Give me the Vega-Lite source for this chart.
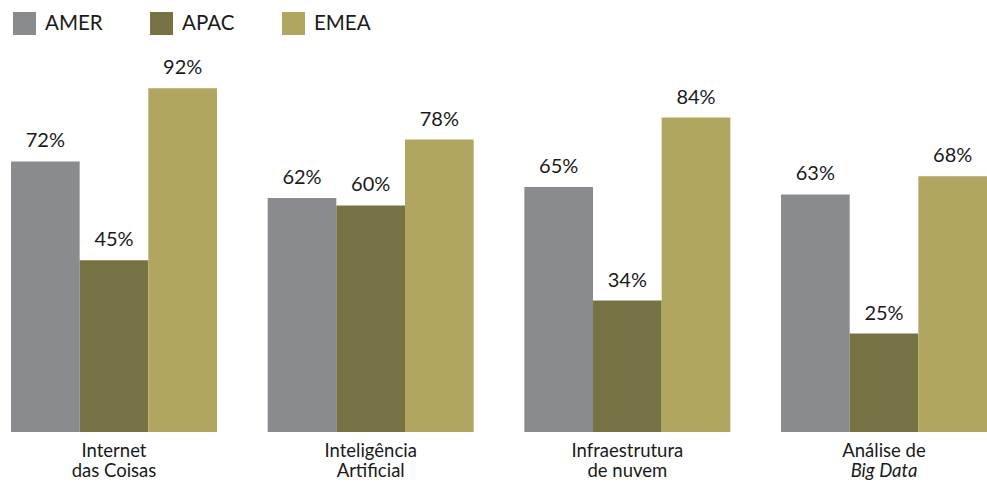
{
  "$schema": "https://vega.github.io/schema/vega-lite/v6.json",
  "width": 976,
  "height": 373,
  "autosize": "none",
  "padding": {"left": 11, "top": 59, "right": 0, "bottom": 50},
  "config": {
    "view": {"stroke": null},
    "font": "Lato",
    "axis": {"grid": false}
  },
  "data": {
    "values": [
      {"tech": "Internet das Coisas", "region": "AMER", "share": 0.72},
      {"tech": "Internet das Coisas", "region": "APAC", "share": 0.45},
      {"tech": "Internet das Coisas", "region": "EMEA", "share": 0.92},
      {"tech": "Inteligência Artificial", "region": "AMER", "share": 0.62},
      {"tech": "Inteligência Artificial", "region": "APAC", "share": 0.60},
      {"tech": "Inteligência Artificial", "region": "EMEA", "share": 0.78},
      {"tech": "Infraestrutura de nuvem", "region": "AMER", "share": 0.65},
      {"tech": "Infraestrutura de nuvem", "region": "APAC", "share": 0.34},
      {"tech": "Infraestrutura de nuvem", "region": "EMEA", "share": 0.84},
      {"tech": "Análise de Big Data", "region": "AMER", "share": 0.63},
      {"tech": "Análise de Big Data", "region": "APAC", "share": 0.25},
      {"tech": "Análise de Big Data", "region": "EMEA", "share": 0.68}
    ]
  },
  "layer": [
    {
      "mark": {"type": "bar"},
      "encoding": {
        "x": {
          "field": "tech", "type": "nominal", "sort": null,
          "scale": {"paddingInner": 0.1975, "paddingOuter": 0},
          "axis": {
            "orient": "bottom", "title": null, "domain": false, "ticks": false,
            "labelAngle": 0, "labelFontSize": 18.5, "labelColor": "#1a1a1a",
            "labelPadding": 9, "labelLimit": 0,
            "labelExpr": "datum.value == 'Internet das Coisas' ? 'Internet' : datum.value == 'Inteligência Artificial' ? 'Inteligência' : datum.value == 'Infraestrutura de nuvem' ? 'Infraestrutura' : 'Análise de'"
          }
        },
        "xOffset": {"field": "region", "type": "nominal", "sort": ["AMER", "APAC", "EMEA"], "scale": {"paddingInner": 0, "paddingOuter": 0}},
        "y": {"field": "share", "type": "quantitative", "scale": {"domain": [-0.019, 1]}, "axis": null},
        "y2": {"datum": -0.019},
        "color": {
          "field": "region", "type": "nominal",
          "scale": {"domain": ["AMER", "APAC", "EMEA"], "range": ["#8a8b8f", "#767243", "#b0a660"]},
          "legend": {
            "orient": "none", "legendX": 2, "legendY": -47, "direction": "horizontal",
            "title": null, "symbolType": "square", "symbolSize": 529, "symbolStrokeWidth": 0,
            "symbolOpacity": 1, "labelFontSize": 20.5, "labelColor": "#1a1a1a",
            "labelOffset": 9, "columnPadding": 47, "padding": 0
          }
        }
      }
    },
    {
      "mark": {"type": "text", "baseline": "bottom", "dy": -10, "fontSize": 20, "color": "#1a1a1a"},
      "encoding": {
        "x": {
          "field": "tech", "type": "nominal", "sort": null,
          "scale": {"paddingInner": 0.1975, "paddingOuter": 0},
          "axis": {
            "orient": "bottom", "title": null, "domain": false, "ticks": false,
            "labelAngle": 0, "labelFontSize": 18.5, "labelColor": "#1a1a1a",
            "labelPadding": 29, "labelLimit": 0,
            "labelFontStyle": {"condition": {"test": "datum.value == 'Análise de Big Data'", "value": "italic"}, "value": "normal"},
            "labelExpr": "datum.value == 'Internet das Coisas' ? 'das Coisas' : datum.value == 'Inteligência Artificial' ? 'Artificial' : datum.value == 'Infraestrutura de nuvem' ? 'de nuvem' : 'Big Data'"
          }
        },
        "xOffset": {"field": "region", "type": "nominal", "sort": ["AMER", "APAC", "EMEA"], "scale": {"paddingInner": 0, "paddingOuter": 0}},
        "y": {"field": "share", "type": "quantitative", "scale": {"domain": [-0.019, 1]}, "axis": null},
        "text": {"field": "share", "type": "quantitative", "format": ".0%"}
      }
    }
  ],
  "resolve": {"scale": {"x": "independent"}, "axis": {"x": "independent"}}
}
